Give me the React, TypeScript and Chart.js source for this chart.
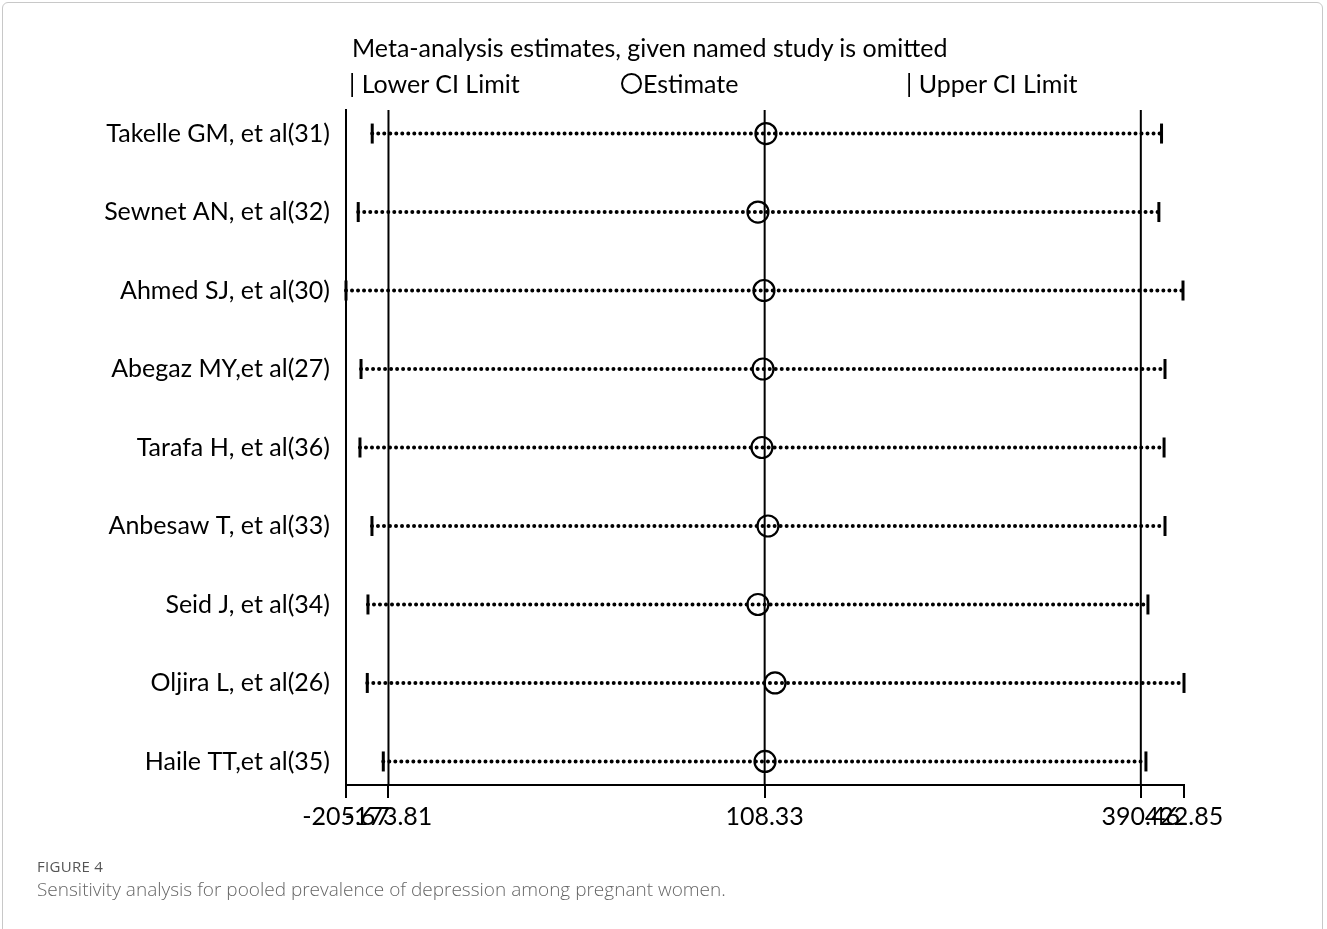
import React, { useEffect, useRef } from "react";
import { Chart, registerables } from "chart.js";
Chart.register(...registerables);

const studies = [
  "Takelle GM, et al(31)",
  "Sewnet AN, et al(32)",
  "Ahmed SJ, et al(30)",
  "Abegaz MY,et al(27)",
  "Tarafa H, et al(36)",
  "Anbesaw T, et al(33)",
  "Seid J, et al(34)",
  "Oljira L, et al(26)",
  "Haile TT,et al(35)",
];
const lowerCI = [-186.0, -196.5, -205.67, -194.4, -195.2, -186.2, -189.2, -189.7, -177.7];
const estimates = [109.3, 103.3, 107.8, 107.1, 106.3, 110.8, 103.3, 116.1, 108.6];
const upperCI = [406.0, 404.0, 422.1, 408.6, 407.9, 408.6, 395.8, 422.85, 394.3];
const pooledLines = [-173.81, 108.33, 390.46];
const xTickValues = [-205.67, -173.81, 108.33, 390.46, 422.85];

const X_MIN = -205.67;
const X_MAX = 422.85;
const Y_MIN = 0.7;
const Y_MAX = 9.3;
const FONT = "Lato, 'Liberation Sans', sans-serif";

export default function App() {
  const ref = useRef<HTMLCanvasElement | null>(null);

  useEffect(() => {
    if (!ref.current) return;
    const black = "#000";
    const datasets: any[] = [
      {
        label: "Estimate",
        data: estimates.map((v, i) => ({ x: v, y: i + 1 })),
        pointStyle: "circle",
        pointRadius: 10.5,
        pointBorderWidth: 2.2,
        pointBorderColor: black,
        pointBackgroundColor: "rgba(0,0,0,0)",
        showLine: false,
        clip: false,
      },
      {
        label: "Lower CI Limit",
        data: lowerCI.map((v, i) => ({ x: v, y: i + 1 })),
        pointStyle: "line",
        rotation: 90,
        pointRadius: 10,
        pointBorderWidth: 3,
        pointBorderColor: black,
        showLine: false,
        clip: false,
      },
      {
        label: "Upper CI Limit",
        data: upperCI.map((v, i) => ({ x: v, y: i + 1 })),
        pointStyle: "line",
        rotation: 90,
        pointRadius: 10,
        pointBorderWidth: 3,
        pointBorderColor: black,
        showLine: false,
        clip: false,
      },
      ...studies.map((s, i) => ({
        label: s,
        data: [
          { x: lowerCI[i], y: i + 1 },
          { x: upperCI[i], y: i + 1 },
        ],
        showLine: true,
        borderColor: black,
        borderWidth: 4,
        borderDash: [0.01, 6],
        borderCapStyle: "round",
        pointRadius: 0,
        clip: false,
      })),
      ...pooledLines.map((v) => ({
        label: "pooled " + v,
        data: [
          { x: v, y: Y_MIN },
          { x: v, y: Y_MAX },
        ],
        showLine: true,
        borderColor: black,
        borderWidth: 2,
        pointRadius: 0,
        clip: false,
      })),
    ];

    const chart = new Chart(ref.current, {
      type: "scatter",
      data: { datasets },
      options: {
        animation: false,
        responsive: false,
        events: [],
        layout: { padding: { top: 110, right: 143, bottom: 94, left: 0 } },
        plugins: { legend: { display: false }, tooltip: { enabled: false }, title: { display: false } },
        scales: {
          x: {
            type: "linear",
            min: X_MIN,
            max: X_MAX,
            afterBuildTicks: (s: any) => {
              s.ticks = xTickValues.map((v) => ({ value: v }));
            },
            afterFit: (s: any) => {
              s.height = 50;
            },
            ticks: {
              autoSkip: false,
              maxRotation: 0,
              minRotation: 0,
              padding: 4,
              color: black,
              font: { family: FONT, size: 25 },
              callback: (v: any) => Number(v).toFixed(2),
            },
            grid: {
              display: true,
              drawOnChartArea: false,
              drawTicks: true,
              tickLength: 13,
              color: black,
              lineWidth: 2,
            },
            border: { display: true, color: black, width: 2 },
          },
          y: {
            type: "linear",
            reverse: true,
            min: Y_MIN,
            max: Y_MAX,
            afterBuildTicks: (s: any) => {
              s.ticks = studies.map((_, i) => ({ value: i + 1 }));
            },
            afterFit: (s: any) => {
              s.width = 346;
            },
            ticks: {
              autoSkip: false,
              padding: 16,
              color: black,
              font: { family: FONT, size: 25 },
              callback: (v: any) => studies[Math.round(Number(v)) - 1] ?? "",
            },
            grid: { display: false, drawTicks: false, tickLength: 0 },
            border: { display: true, color: black, width: 2 },
          },
        },
      },
    });
    return () => chart.destroy();
  }, []);

  const textBase: React.CSSProperties = {
    position: "absolute",
    fontFamily: FONT,
    fontSize: 25,
    lineHeight: "26px",
    color: "#000",
    whiteSpace: "nowrap",
  };

  return (
    <div
      style={{
        position: "absolute",
        left: 0,
        top: 0,
        width: 1327,
        height: 929,
        background: "#fff",
        overflow: "hidden",
      }}
    >
      <div
        style={{
          position: "absolute",
          left: 2,
          top: 2,
          width: 1321,
          height: 940,
          border: "1px solid #c8c8c8",
          borderRadius: 6,
          boxSizing: "border-box",
        }}
      />
      <canvas ref={ref} width={1327} height={929} style={{ position: "absolute", left: 0, top: 0 }} />
      <div style={{ ...textBase, left: 352, top: 34 }}>Meta-analysis estimates, given named study is omitted</div>
      <div style={{ ...textBase, left: 349, top: 70 }}>| Lower CI Limit</div>
      <div style={{ ...textBase, left: 621, top: 70, display: "flex", alignItems: "center" }}>
        <span
          style={{
            display: "inline-block",
            width: 17,
            height: 17,
            border: "2px solid #000",
            borderRadius: "50%",
            marginRight: 1,
          }}
        />
        <span>Estimate</span>
      </div>
      <div style={{ ...textBase, left: 906, top: 70 }}>| Upper CI Limit</div>
      <div
        style={{
          position: "absolute",
          left: 37,
          top: 857,
          fontFamily: "'Open Sans', 'Noto Sans', sans-serif",
          fontSize: 15,
          lineHeight: "18px",
          color: "#555",
          letterSpacing: 0.3,
        }}
      >
        FIGURE 4
      </div>
      <div
        style={{
          position: "absolute",
          left: 37,
          top: 877,
          fontFamily: "'Open Sans', 'Noto Sans', sans-serif",
          fontSize: 19,
          fontWeight: 300,
          lineHeight: "24px",
          color: "#666",
          whiteSpace: "nowrap",
        }}
      >
        Sensitivity analysis for pooled prevalence of depression among pregnant women.
      </div>
    </div>
  );
}
